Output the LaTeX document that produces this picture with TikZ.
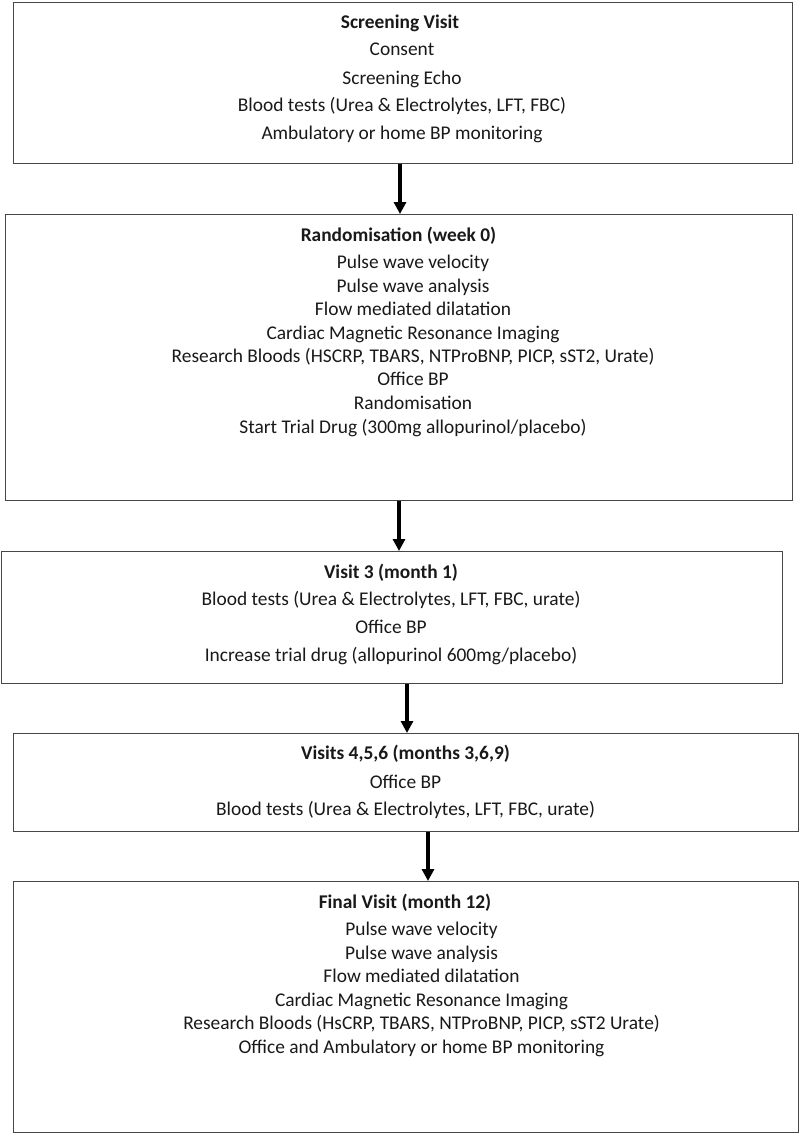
\documentclass[tikz,border=0pt]{standalone}
\usepackage{fontspec}
\setmainfont{Carlito}
\usetikzlibrary{arrows.meta}
\begin{document}
\begin{tikzpicture}[x=1pt,y=-1pt,
  box/.style={draw=black!72, line width=1.4pt, anchor=north west, inner sep=0pt},
  txt/.style={anchor=base, inner sep=0pt, font=\fontsize{19.4}{23}\selectfont, text=black!90},
  hd/.style={txt, font=\fontsize{19.4}{23}\selectfont\bfseries},
  arr/.style={line width=3.4pt, -{Triangle[width=12pt,length=12pt]}}]
\useasboundingbox (0,0) rectangle (800,1138);
\fill[white] (0,0) rectangle (800,1138);
% boxes
\node[box, minimum width=779pt, minimum height=161pt] (b1) at (13,2) {};
\node[box, minimum width=787pt, minimum height=286pt] (b2) at (5,214) {};
\node[box, minimum width=781pt, minimum height=132pt] (b3) at (1,551) {};
\node[box, minimum width=785pt, minimum height=98pt] (b4) at (13,733) {};
\node[box, minimum width=785pt, minimum height=251pt] (b5) at (13,881) {};
% box 1 text
\node[hd]  (t11) at (400,28)  {Screening Visit};
\node[txt] (t12) at (402,55)  {Consent};
\node[txt] (t13) at (402,84)  {Screening Echo};
\node[txt] (t14) at (402,111) {Blood tests (Urea \& Electrolytes, LFT, FBC)};
\node[txt] (t15) at (402,139) {Ambulatory or home BP monitoring};
% box 2 text
\node[hd]  (t21) at (398.5,241) {Randomisation (week 0)};
\node[txt] (t22) at (413,268) {Pulse wave velocity};
\node[txt] (t23) at (413,292) {Pulse wave analysis};
\node[txt] (t24) at (413,315) {Flow mediated dilatation};
\node[txt] (t25) at (413,339) {Cardiac Magnetic Resonance Imaging};
\node[txt] (t26) at (413,362) {Research Bloods (HSCRP, TBARS, NTProBNP, PICP, sST2, Urate)};
\node[txt] (t27) at (413,385) {Office BP};
\node[txt] (t28) at (413,409) {Randomisation};
\node[txt] (t29) at (413,433) {Start Trial Drug (300mg allopurinol/placebo)};
% box 3 text
\node[hd]  (t31) at (391,578) {Visit 3 (month 1)};
\node[txt] (t32) at (391,605) {Blood tests (Urea \& Electrolytes, LFT, FBC, urate)};
\node[txt] (t33) at (391,633) {Office BP};
\node[txt] (t34) at (391,661) {Increase trial drug (allopurinol 600mg/placebo)};
% box 4 text
\node[hd]  (t41) at (405.5,759) {Visits 4,5,6 (months 3,6,9)};
\node[txt] (t42) at (405.5,788) {Office BP};
\node[txt] (t43) at (405.5,815) {Blood tests (Urea \& Electrolytes, LFT, FBC, urate)};
% box 5 text
\node[hd]  (t51) at (405,908) {Final Visit (month 12)};
\node[txt] (t52) at (421.5,935) {Pulse wave velocity};
\node[txt] (t53) at (421.5,959) {Pulse wave analysis};
\node[txt] (t54) at (421.5,982) {Flow mediated dilatation};
\node[txt] (t55) at (421.5,1006) {Cardiac Magnetic Resonance Imaging};
\node[txt] (t56) at (421.5,1029) {Research Bloods (HsCRP, TBARS, NTProBNP, PICP, sST2 Urate)};
\node[txt] (t57) at (421.5,1053) {Office and Ambulatory or home BP monitoring};
% arrows
\coordinate (a1) at (400,0);
\coordinate (a2) at (399,0);
\coordinate (a3) at (407,0);
\coordinate (a4) at (428,0);
\draw[arr] (b1.south -| a1) -- (b2.north -| a1);
\draw[arr] (b2.south -| a2) -- (b3.north -| a2);
\draw[arr] (b3.south -| a3) -- (b4.north -| a3);
\draw[arr] (b4.south -| a4) -- (b5.north -| a4);
\end{tikzpicture}
\end{document}
